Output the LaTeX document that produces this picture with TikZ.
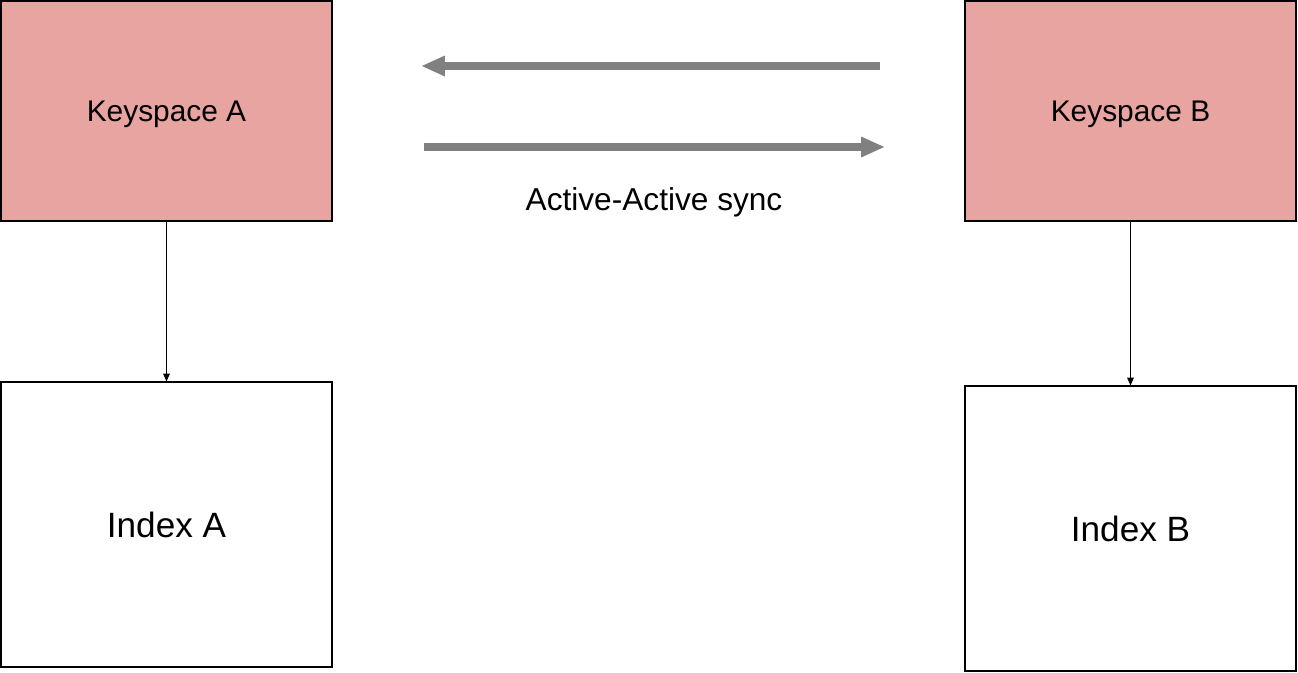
\documentclass[tikz,border=0pt]{standalone}
\usepackage{fontspec}
\setmainfont{Liberation Sans}
\usetikzlibrary{arrows.meta}
\definecolor{keypink}{HTML}{E8A4A1}
\definecolor{syncgray}{HTML}{808080}
\begin{document}
\begin{tikzpicture}[
  keybox/.style={draw, fill=keypink, line width=0.6pt, minimum width=6.62cm, minimum height=4.4cm, text depth=0pt, font=\fontsize{17}{20}\selectfont},
  indexbox/.style={draw, line width=0.6pt, minimum width=6.62cm, minimum height=5.7cm, text depth=0pt, font=\fontsize{20}{24}\selectfont},
  link/.style={-{Triangle[length=4.5pt,width=3.8pt]}, line width=0.6pt},
  sync/.style={-{Triangle[length=13.6pt,width=10.8pt]}, line width=4pt, draw=syncgray}]
\useasboundingbox (0,0) rectangle (25.96,-13.44);
\node[keybox] (ksa) at (3.33,-2.22) {Keyspace A};
\node[indexbox] (ixa) at (3.33,-10.49) {Index A};
\node[keybox] (ksb) at (22.61,-2.22) {Keyspace B};
\node[indexbox] (ixb) at (22.61,-10.57) {Index B};
\draw[link] (ksa) -- (ixa);
\draw[link] (ksb) -- (ixb);
\coordinate (ba) at (17.6,-1.32);
\coordinate (ab) at (8.42,-1.32);
\coordinate (as) at (8.48,-2.94);
\coordinate (bs) at (17.7,-2.94);
\draw[sync] (ba) -- (ab);
\draw[sync] (as) -- (bs);
\node[text depth=0pt, font=\fontsize{18}{22}\selectfont] (lbl) at (13.08,-3.98) {Active-Active sync};
\end{tikzpicture}
\end{document}
